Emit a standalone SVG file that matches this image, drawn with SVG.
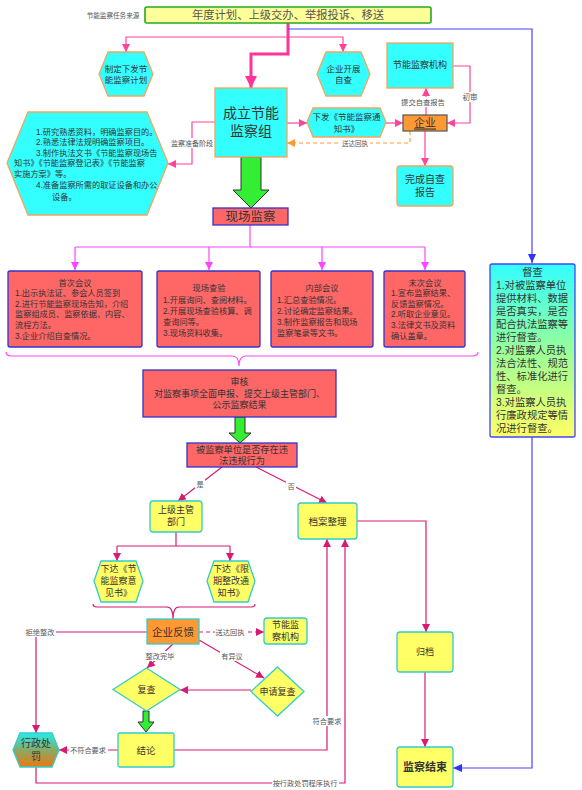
<svg xmlns="http://www.w3.org/2000/svg" width="582" height="790" viewBox="0 0 582 790">
<style>
text{font-family:"Liberation Sans","Noto Sans CJK SC",sans-serif;dominant-baseline:central;fill:#333}
.c{text-anchor:middle}
.lbl{font-size:7.2px;fill:#555;text-anchor:middle}
.cy{fill:#33FFFF;stroke:#F5A55A;stroke-width:1.3}
.rd{fill:#FF6666;stroke:#3333CC;stroke-width:1.3}
.yl{fill:#FFFF66;stroke:#33CCCC;stroke-width:1.3}
.or{fill:#FF9933}
.pk{fill:none;stroke:#FF4499;stroke-width:1.2}
.mg{fill:none;stroke:#FF44FF;stroke-width:1.2}
.cr{fill:none;stroke:#D81B72;stroke-width:1.2}
.bl{fill:none;stroke:#4444FF;stroke-width:1.2}
.ga{fill:#33EE33;stroke:#333;stroke-width:1}
.wb{fill:#fff}
</style>
<defs>
<marker id="ap" markerUnits="userSpaceOnUse" markerWidth="8" markerHeight="8" refX="8" refY="4" orient="auto"><path d="M0,0 L8,4 L0,8 z" fill="#FF4499"/></marker>
<marker id="apb" markerUnits="userSpaceOnUse" markerWidth="12" markerHeight="12" refX="12" refY="6" orient="auto"><path d="M0,0 L12,6 L0,12 z" fill="#FF3399"/></marker>
<marker id="am" markerUnits="userSpaceOnUse" markerWidth="8" markerHeight="8" refX="8" refY="4" orient="auto"><path d="M0,0 L8,4 L0,8 z" fill="#FF44FF"/></marker>
<marker id="ac" markerUnits="userSpaceOnUse" markerWidth="8" markerHeight="8" refX="8" refY="4" orient="auto"><path d="M0,0 L8,4 L0,8 z" fill="#D81B72"/></marker>
<marker id="ab" markerUnits="userSpaceOnUse" markerWidth="9" markerHeight="8" refX="9" refY="4" orient="auto"><path d="M0,0 L9,4 L0,8 z" fill="#3333FF"/></marker>
<marker id="ao" markerUnits="userSpaceOnUse" markerWidth="8" markerHeight="8" refX="8" refY="4" orient="auto"><path d="M0,0 L8,4 L0,8 z" fill="#FF9933"/></marker>
<linearGradient id="gd" x1="0" y1="0" x2="0" y2="1"><stop offset="0" stop-color="#33FFFF"/><stop offset="0.5" stop-color="#99FF99"/><stop offset="1" stop-color="#FFFF66"/></linearGradient>
<linearGradient id="gx" x1="0" y1="0" x2="0" y2="1"><stop offset="0" stop-color="#22EEEE"/><stop offset="0.5" stop-color="#88AA66"/><stop offset="1" stop-color="#EE7711"/></linearGradient>
</defs>

<g id="connectors">
<path d="M288,23 V54 H251 V88" fill="none" stroke="#FF3399" stroke-width="3" marker-end="url(#apb)"/>
<path d="M288,37 H126 V52" class="pk" stroke="#FF77BB" marker-end="url(#ap)"/>
<path d="M288,37 H343 V52" class="pk" stroke="#FF77BB" marker-end="url(#ap)"/>
<path d="M288,29 H532 V263" class="bl" marker-end="url(#ab)"/>
<path d="M215,122 H192 V164 H168" class="pk" marker-end="url(#ap)"/>
<rect class="wb" x="169" y="138" width="46" height="10"/>
<text class="lbl" x="192" y="143" style="font-size:7px">监察准备阶段</text>
<path d="M287,123 H307" class="pk" marker-end="url(#ap)"/>
<path d="M386,123 H403" class="pk" marker-end="url(#ap)"/>
<path d="M410,131 V143 H287" fill="none" stroke="#FF9933" stroke-width="1.2" stroke-dasharray="4,3" marker-end="url(#ao)"/>
<rect class="wb" x="340" y="139" width="30" height="9"/>
<text class="lbl" x="355" y="143.5" style="font-size:6.5px">送达回执</text>
<path d="M426,115 V88" class="pk" marker-end="url(#ap)"/>
<rect class="wb" x="400" y="97" width="46" height="10"/>
<text class="lbl" x="423" y="102" style="font-size:7.3px">提交自查报告</text>
<path d="M453,66 H470 V123 H447" class="pk" marker-end="url(#ap)"/>
<rect class="wb" x="461" y="92" width="18" height="10"/>
<text class="lbl" x="470" y="97" style="font-size:7.5px">初审</text>
<path d="M425,131 V166" class="pk" marker-end="url(#ap)"/>
<path d="M250,225 V247" class="mg"/>
<path d="M75,247 H425" class="mg"/>
<path d="M75,247 V270" class="mg" marker-end="url(#am)"/>
<path d="M209,247 V270" class="mg" marker-end="url(#am)"/>
<path d="M322,247 V270" class="mg" marker-end="url(#am)"/>
<path d="M425,247 V270" class="mg" marker-end="url(#am)"/>
<path d="M6,352 Q6,356 12,356 H232 Q239,356 239,366 Q239,356 246,356 H472 Q478,356 478,352" class="mg"/>
<path d="M222,467 L178,501" class="cr" marker-end="url(#ac)"/>
<rect class="wb" x="195" y="479" width="10" height="10"/>
<text class="lbl" x="200" y="484">是</text>
<path d="M256,467 L327,503" class="cr" marker-end="url(#ac)"/>
<rect class="wb" x="286" y="481" width="10" height="10"/>
<text class="lbl" x="291" y="486">否</text>
<path d="M176,532 V546" class="cr"/>
<path d="M117,546 H230" class="cr"/>
<path d="M117,546 V561" class="cr" marker-end="url(#ac)"/>
<path d="M230,546 V561" class="cr" marker-end="url(#ac)"/>
<path d="M93,604 Q93,607 97,607 H167 Q173,607 173,619 Q173,607 179,607 H251 Q255,607 255,604" class="cr"/>
<path d="M199,632 H264" class="cr" stroke-dasharray="4,3" marker-end="url(#ac)"/>
<rect class="wb" x="215" y="627" width="30" height="10"/>
<text class="lbl" x="230" y="632">送达回执</text>
<path d="M147,632 H36 V733" class="cr" marker-end="url(#ac)"/>
<rect class="wb" x="25" y="627" width="31" height="10"/>
<text class="lbl" x="40" y="632">拒绝整改</text>
<path d="M173,644 L147,668" class="cr" marker-end="url(#ac)"/>
<rect class="wb" x="144" y="651" width="32" height="10"/>
<text class="lbl" x="160" y="656">整改完毕</text>
<path d="M199,640 L264,678" class="cr" marker-end="url(#ac)"/>
<rect class="wb" x="220" y="651" width="24" height="10"/>
<text class="lbl" x="232" y="656">有异议</text>
<path d="M251,690 H180" class="cr" marker-end="url(#ac)"/>
<path d="M118,750 H59" class="cr" marker-end="url(#ac)"/>
<rect class="wb" x="69" y="745" width="39" height="10"/>
<text class="lbl" x="88" y="750">不符合要求</text>
<path d="M174,750 H327 V539" class="cr" marker-end="url(#ac)"/>
<rect class="wb" x="312" y="716" width="31" height="10"/>
<text class="lbl" x="327" y="721">符合要求</text>
<path d="M36,767 V783 H345 V539" class="cr" marker-end="url(#ac)"/>
<rect class="wb" x="272" y="778" width="67" height="10"/>
<text class="lbl" x="305" y="783">按行政处罚程序执行</text>
<path d="M357,521 H426 V632" class="cr" marker-end="url(#ac)"/>
<path d="M425,672 V747" class="cr" marker-end="url(#ac)"/>
<path d="M532,437 V768 H453" class="bl" marker-end="url(#ab)"/>
<polygon class="ga" points="241,157 261,157 261,190 269,190 251,208 233,190 241,190"/>
<polygon class="ga" points="235,417 245,417 245,433 251,433 240,443 229,433 235,433"/>
<polygon class="ga" points="143,711 149,711 149,722 154,722 146,732 138,722 143,722"/>
</g>

<g id="source-label"><text x="113" y="15" class="c" style="font-size:6.6px;fill:#555">节能监察任务来源</text></g>
<g id="source">
<rect x="145" y="7" width="286" height="16" rx="2" fill="#FFFF99" stroke="#22AA22" stroke-width="1.6"/>
<text x="288" y="15" class="c" style="font-size:11.3px;fill:#555">年度计划、上级交办、举报投诉、移送</text>
</g>
<g id="plan">
<polygon class="cy" points="99,74 108,52 144,52 153,74 144,96 108,96"/>
<text x="126" y="68.5" class="c" style="font-size:8.5px">制定下发节</text>
<text x="126" y="80" class="c" style="font-size:8.5px">能监察计划</text>
</g>
<g id="selfcheck">
<polygon class="cy" points="317,74 326,52 361,52 370,74 361,96 326,96"/>
<text x="343.5" y="68.5" class="c" style="font-size:8.5px">企业开展</text>
<text x="343.5" y="80" class="c" style="font-size:8.5px">自查</text>
</g>
<g id="agency">
<rect class="cy" x="387" y="43" width="66" height="45"/>
<text x="420" y="65" class="c" style="font-size:9px">节能监察机构</text>
</g>
<g id="team">
<rect class="cy" x="215" y="88" width="72" height="69"/>
<text x="251" y="113" class="c" style="font-size:14px">成立节能</text>
<text x="251" y="131" class="c" style="font-size:14px">监察组</text>
</g>
<g id="prep">
<polygon class="cy" points="7,163 28,112 147,112 168,163 147,215 28,215"/>
<g style="font-size:8.2px">
<text x="36" y="132">1.研究熟悉资料，明确监察目的。</text>
<text x="36" y="142.5">2.熟悉法律法规明确监察项目。</text>
<text x="36" y="153">3.制作执法文书《节能监察现场告</text>
<text x="14" y="163.5">知书》《节能监察登记表》《节能监察</text>
<text x="14" y="174">实施方案》等。</text>
<text x="36" y="185.5">4.准备监察所需的取证设备和办公</text>
<text x="52" y="197">设备。</text>
</g>
</g>
<g id="notice">
<polygon class="cy" points="307,122 313,108 380,108 386,122 380,137 313,137"/>
<text x="346.5" y="117" class="c" style="font-size:8.5px">下发《节能监察通</text>
<text x="346.5" y="128.5" class="c" style="font-size:8.5px">知书》</text>
</g>
<g id="enterprise">
<rect class="or" x="403" y="115" width="44" height="16" stroke="#555" stroke-width="1.2"/>
<text x="425" y="122.5" class="c" style="font-size:11px;text-decoration:underline">企业</text>
</g>
<g id="report">
<rect class="cy" x="397" y="166" width="56" height="40" rx="3"/>
<text x="425" y="179" class="c" style="font-size:10px">完成自查</text>
<text x="425" y="192" class="c" style="font-size:10px">报告</text>
</g>
<g id="field">
<rect class="rd" x="213" y="208" width="75" height="17"/>
<text x="250.5" y="216.5" class="c" style="font-size:12.5px">现场监察</text>
</g>
<g id="first-meeting">
<rect class="rd" x="8" y="271" width="134" height="76" rx="2"/>
<g style="font-size:8.2px">
<text x="75" y="283" class="c">首次会议</text>
<text x="15" y="293.5">1.出示执法证、参会人员签到</text>
<text x="15" y="304">2.进行节能监察现场告知，介绍</text>
<text x="15" y="314.5">监察组成员、监察依据、内容、</text>
<text x="15" y="325">流程方法。</text>
<text x="15" y="336">3.企业介绍自查情况。</text>
</g>
</g>
<g id="site-check">
<rect class="rd" x="157" y="271" width="103" height="76" rx="2"/>
<g style="font-size:8.2px">
<text x="209" y="288" class="c">现场查验</text>
<text x="163" y="300">1.开展询问、查阅材料。</text>
<text x="163" y="311">2.开展现场查验核算、调</text>
<text x="163" y="322">查询问等。</text>
<text x="163" y="333">3.现场资料收集。</text>
</g>
</g>
<g id="internal-meeting">
<rect class="rd" x="271" y="271" width="102" height="76" rx="2"/>
<g style="font-size:8.2px">
<text x="322" y="288" class="c">内部会议</text>
<text x="277" y="300">1.汇总查验情况。</text>
<text x="277" y="311">2.讨论确定监察结果。</text>
<text x="277" y="322">3.制作监察报告和现场</text>
<text x="277" y="333">监察笔录等文书。</text>
</g>
</g>
<g id="final-meeting">
<rect class="rd" x="384" y="271" width="81" height="76" rx="2"/>
<g style="font-size:8.2px">
<text x="425" y="283" class="c">末次会议</text>
<text x="391" y="293.5">1.宣布监察结果、</text>
<text x="391" y="304">反馈监察情况。</text>
<text x="391" y="314.5">2.听取企业意见。</text>
<text x="391" y="325">3.法律文书及资料</text>
<text x="391" y="336">确认盖章。</text>
</g>
</g>
<g id="supervise">
<rect x="490" y="264" width="85" height="173" rx="2" fill="url(#gd)" stroke="#4444FF" stroke-width="1.3"/>
<g style="font-size:10.3px">
<text x="532.5" y="272" class="c">督查</text>
<text x="496" y="285.5">1.对被监察单位</text>
<text x="496" y="298.5">提供材料、数据</text>
<text x="496" y="311.5">是否真实，是否</text>
<text x="496" y="324.5">配合执法监察等</text>
<text x="496" y="337.5">进行督查。</text>
<text x="496" y="350.5">2.对监察人员执</text>
<text x="496" y="363.5">法合法性、规范</text>
<text x="496" y="376.5">性、标准化进行</text>
<text x="496" y="389.5">督查。</text>
<text x="496" y="402.5">3.对监察人员执</text>
<text x="496" y="415.5">行廉政规定等情</text>
<text x="496" y="428.5">况进行督查。</text>
</g>
</g>
<g id="review">
<rect class="rd" x="143" y="370" width="193" height="47"/>
<g style="font-size:9px">
<text x="239.5" y="382" class="c">审核</text>
<text x="239.5" y="393.5" class="c">对监察事项全面申报、提交上级主管部门、</text>
<text x="239.5" y="405" class="c">公示监察结果</text>
</g>
</g>
<g id="violation">
<rect class="rd" x="187" y="443" width="110" height="24"/>
<text x="242" y="449.5" class="c" style="font-size:9.2px">被监察单位是否存在违</text>
<text x="242" y="461" class="c" style="font-size:9.2px">法违规行为</text>
</g>
<g id="superior">
<rect class="yl" x="150" y="501" width="52" height="31" rx="3"/>
<text x="176" y="510" class="c" style="font-size:9px">上级主管</text>
<text x="176" y="522" class="c" style="font-size:9px">部门</text>
</g>
<g id="archive-sort">
<rect class="yl" x="298" y="503" width="59" height="36" rx="3"/>
<text x="327.5" y="521" class="c" style="font-size:9.5px">档案整理</text>
</g>
<g id="opinion">
<polygon class="yl" points="94,581 101,561 136,561 143,581 136,602 101,602"/>
<g style="font-size:9px">
<text x="118.5" y="569" class="c">下达《节</text>
<text x="118.5" y="581" class="c">能监察意</text>
<text x="118.5" y="593" class="c">见书》</text>
</g>
</g>
<g id="rectify">
<polygon class="yl" points="207,581 214,561 248,561 255,581 248,602 214,602"/>
<g style="font-size:9px">
<text x="231" y="569" class="c">下达《限</text>
<text x="231" y="581" class="c">期整改通</text>
<text x="231" y="593" class="c">知书》</text>
</g>
</g>
<g id="feedback">
<rect class="or" x="147" y="619" width="52" height="25" stroke="#33CCCC" stroke-width="1.3"/>
<text x="173" y="632" class="c" style="font-size:10.5px">企业反馈</text>
</g>
<g id="agency2">
<rect class="yl" x="264" y="618" width="43" height="26" rx="3"/>
<text x="285.5" y="625" class="c" style="font-size:9px">节能监</text>
<text x="285.5" y="637" class="c" style="font-size:9px">察机构</text>
</g>
<g id="recheck">
<polygon class="yl" points="146.5,668 180,689.5 146.5,711 113,689.5"/>
<text x="146.5" y="690" class="c" style="font-size:9px">复查</text>
</g>
<g id="apply-recheck">
<polygon class="yl" points="277.5,667 304,691.5 277.5,716 251,691.5"/>
<text x="277.5" y="691.5" class="c" style="font-size:9px">申请复查</text>
</g>
<g id="conclusion">
<rect class="yl" x="118" y="733" width="56" height="34" rx="2"/>
<text x="146" y="750" class="c" style="font-size:9.5px">结论</text>
</g>
<g id="penalty">
<polygon points="13,750 20,733 52,733 59,750 52,767 20,767" fill="url(#gx)" stroke="#33CCCC" stroke-width="1.3"/>
<text x="36" y="743.5" class="c" style="font-size:10px">行政处</text>
<text x="36" y="756.5" class="c" style="font-size:10px">罚</text>
</g>
<g id="archive">
<rect class="yl" x="397" y="632" width="56" height="40" rx="3"/>
<text x="425" y="652" class="c" style="font-size:9px">归档</text>
</g>
<g id="end">
<rect class="yl" x="397" y="747" width="56" height="40" rx="3"/>
<text x="425" y="767" class="c" style="font-size:11px;font-weight:bold">监察结束</text>
</g>
</svg>
